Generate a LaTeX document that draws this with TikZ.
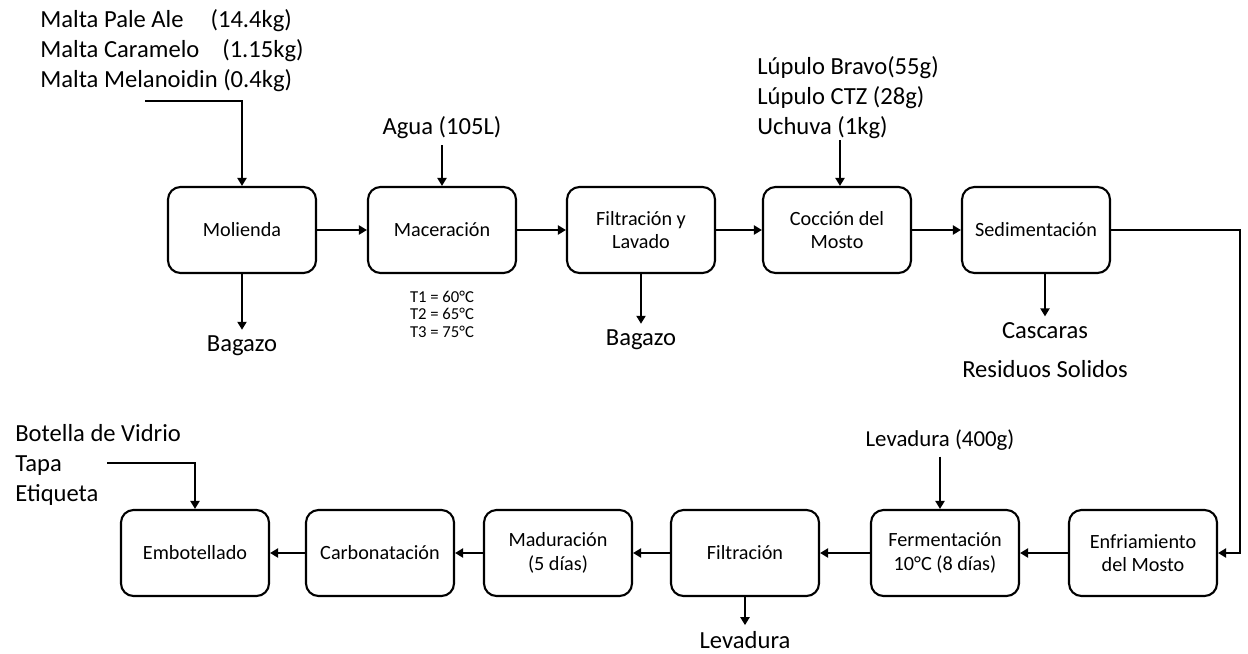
\documentclass[tikz,border=0pt]{standalone}
\usepackage{fontspec}
\setmainfont{Carlito}
\usetikzlibrary{arrows.meta}

\begin{document}
\begin{tikzpicture}[x=0.02cm,y=-0.02cm,
        flow/.style={line width=1.4pt,-{Triangle[length=1.6mm,width=1.8mm]}},
        every node/.style={font=\fontsize{14}{17}\selectfont}]
        \useasboundingbox (0,0) rectangle (1248,653);
        \begin{scope}[every node/.style={draw,line width=1.2pt,rounded corners=0.25cm,minimum width=2.96cm,minimum height=1.72cm,align=center,font=\fontsize{11.5}{13.5}\selectfont}]
            \node (molienda) at (242,230) {Molienda};
            \node (maceracion) at (442,230) {Maceración};
            \node (filtlavado) at (641,230) {Filtración y\\Lavado};
            \node (coccion) at (837,230) {Cocción del\\Mosto};
            \node (sedimentacion) at (1036,230) {Sedimentación};
            \node (enfriamiento) at (1143,553) {Enfriamiento\\del Mosto};
            \node (fermentacion) at (945,553) {Fermentación\\10°C (8 días)};
            \node (filtracion) at (745,553) {Filtración};
            \node (maduracion) at (558,553) {Maduración\\(5 días)};
            \node (carbonatacion) at (380,553) {Carbonatación};
            \node (embotellado) at (195,553) {Embotellado};
        \end{scope}
        \node[anchor=north west,align=left,inner sep=0] (malta) at (40,9) {Malta Pale Ale\hspace{0.54cm}(14.4kg)\\Malta Caramelo\hspace{0.46cm}(1.15kg)\\Malta Melanoidin (0.4kg)};
        \node (agua) at (442,128) {Agua (105L)};
        \node[anchor=north west,align=left,inner sep=0] (lupulo) at (757,56) {Lúpulo Bravo(55g)\\Lúpulo CTZ (28g)\\Uchuva (1kg)};
        \node (bagazoA) at (242,346) {Bagazo};
        \node[align=center,font=\fontsize{9.5}{10}\selectfont] (temps) at (442,314) {T1 = 60°C\\T2 = 65°C\\T3 = 75°C};
        \node (bagazoB) at (641,340) {Bagazo};
        \node[align=center,font=\fontsize{14}{22}\selectfont] (cascaras) at (1045,350) {Cascaras\\Residuos Solidos};
        \node[anchor=north west,align=left,inner sep=0] (botella) at (15,424) {Botella de Vidrio\\Tapa\\Etiqueta};
        \node[font=\fontsize{13}{17}\selectfont] (levaduraIn) at (940,440) {Levadura (400g)};
        \node (levaduraOut) at (745,640) {Levadura};
        \coordinate (maltain) at (145,101);
        \coordinate (lupuloin) at (840,140);
        \coordinate (vuelta) at (1240,230);
        \coordinate (botellain) at (107,463);
        \draw[flow] (maltain) -| (molienda.north);
        \draw[flow] (agua) -- (maceracion);
        \draw[flow] (lupuloin) -- (lupuloin |- coccion.north);
        \draw[flow] (molienda) -- (maceracion);
        \draw[flow] (maceracion) -- (filtlavado);
        \draw[flow] (filtlavado) -- (coccion);
        \draw[flow] (coccion) -- (sedimentacion);
        \draw[flow] (molienda) -- (bagazoA);
        \draw[flow] (filtlavado) -- (bagazoB);
        \draw[flow] (sedimentacion.south -| cascaras.north) -- (cascaras.north);
        \draw[flow] (sedimentacion.east) -- (vuelta) |- (enfriamiento.east);
        \draw[flow] (enfriamiento) -- (fermentacion);
        \draw[flow] (fermentacion) -- (filtracion);
        \draw[flow] (filtracion) -- (maduracion);
        \draw[flow] (maduracion) -- (carbonatacion);
        \draw[flow] (carbonatacion) -- (embotellado);
        \draw[flow] (levaduraIn.south) -- (levaduraIn.south |- fermentacion.north);
        \draw[flow] (filtracion) -- (levaduraOut);
        \draw[flow] (botellain) -| (embotellado.north);
    \end{tikzpicture}
\end{document}
